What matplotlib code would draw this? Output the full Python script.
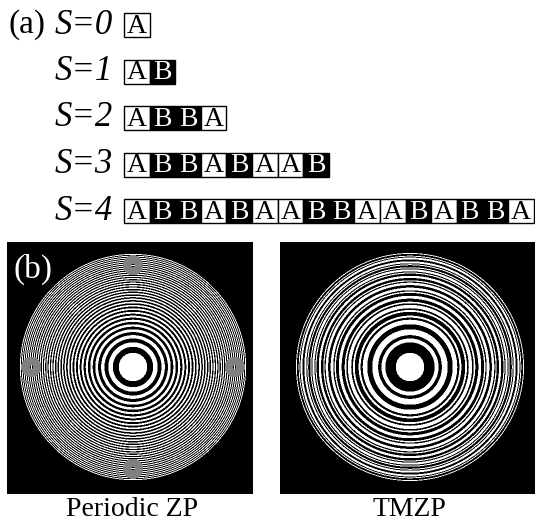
import numpy as np
import matplotlib.pyplot as plt
from matplotlib.patches import Rectangle

plt.rcParams['font.family'] = ['Liberation Serif', 'DejaVu Serif']

W, H = 535, 523

# (a) Thue-Morse sequences of order S
orders = [0, 1, 2, 3, 4]
sequences = ["A", "AB", "ABBA", "ABBABAAB", "ABBABAABBAABABBA"]

# (b) zone plates
n_zones = 64        # subintervals of zeta = (r/a)^2
tm_order = 6        # Thue-Morse order used for the TMZP (2^6 = 64 elements)
titles = ["Periodic ZP", "TMZP"]


def thue_morse(order):
    seq = "A"
    for _ in range(order):
        seq = "".join("AB" if c == "A" else "BA" for c in seq)
    return seq


def px_axes(fig, x0, y0, x1, y1):
    # axes placed by pixel box (top-left origin)
    return fig.add_axes([x0 / W, 1 - y1 / H, (x1 - x0) / W, (y1 - y0) / H])


fig = plt.figure(figsize=(W / 100, H / 100), dpi=100)

# ---- (a) ----
bw, x_start = 25.6, 124      # box width / left edge in px
pitch, y_first = 46.5, 25    # row pitch / first row centre in px
bh = 24 / pitch              # box height in row units
ax = px_axes(fig, 0, 0, W, 238)
ax.set_xlim(-x_start / bw, (W - x_start) / bw)
ax.set_ylim((238 - y_first) / pitch, -y_first / pitch)
ax.axis('off')

for s, seq in zip(orders, sequences):
    for i, c in enumerate(seq):
        face = 'white' if c == 'A' else 'black'
        txt = 'black' if c == 'A' else 'white'
        ax.add_patch(Rectangle((i, s - bh / 2), 1, bh, facecolor=face,
                               edgecolor='black', lw=1))
        ax.text(i + 0.5, s + 0.03, c, ha='center', va='center', color=txt,
                fontsize=20)
    ax.text(-0.45, s, f"S={s}", ha='right', va='center', fontsize=25,
            style='italic')
ax.text((8 - x_start) / bw, 0, "(a)", ha='left', va='center', fontsize=24)

# ---- (b) ----
a = 114
ss = 2   # supersampling, then box-averaged
boxes = [(7, 242, 253, 494, 133, 367), (280, 242, 535, 494, 410, 367)]
tm = np.array([c == 'A' for c in thue_morse(tm_order)])
for k, (x0, y0, x1, y1, cx, cy) in enumerate(boxes):
    axi = px_axes(fig, x0, y0, x1, y1)
    xs = x0 + (np.arange((x1 - x0) * ss) + 0.5) / ss - cx
    ys = y0 + (np.arange((y1 - y0) * ss) + 0.5) / ss - cy
    X, Y = np.meshgrid(xs, ys)
    zeta = (X ** 2 + Y ** 2) / a ** 2
    idx = np.floor(zeta * n_zones).astype(int)
    inside = idx < n_zones
    idc = np.clip(idx, 0, n_zones - 1)
    if k == 0:
        img = (idc % 2 == 0) & inside
    else:
        img = tm[idc] & inside
    img = img.astype(float).reshape(y1 - y0, ss, x1 - x0, ss).mean(axis=(1, 3))
    axi.imshow(img, cmap='gray', vmin=0, vmax=1,
               interpolation='nearest', aspect='auto')
    axi.axis('off')
    fig.text(((x0 + x1) / 2 + 2) / W, 1 - 510 / H, titles[k], ha='center',
             va='center', fontsize=20)
    if k == 0:
        axi.text(0.025, 0.955, "(b)", transform=axi.transAxes, color='white',
                 ha='left', va='top', fontsize=24)

fig.savefig('out.png', dpi=100)
